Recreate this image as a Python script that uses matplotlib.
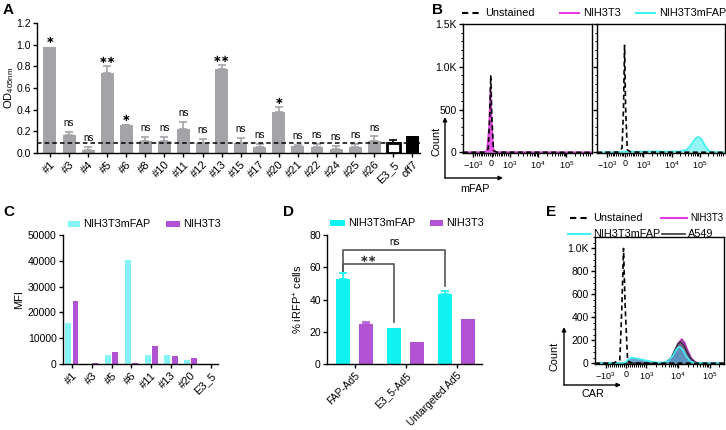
import matplotlib
matplotlib.use('Agg')
import matplotlib.pyplot as plt
import numpy as np
from matplotlib.lines import Line2D
from matplotlib.patches import Rectangle, FancyArrowPatch
from matplotlib.ticker import FixedLocator, MultipleLocator, NullFormatter

plt.rcParams['font.family'] = ['Liberation Sans', 'DejaVu Sans']
plt.rcParams['font.size'] = 7.5
plt.rcParams['mathtext.fontset'] = 'custom'
plt.rcParams['mathtext.rm'] = 'Liberation Sans'
plt.rcParams['mathtext.it'] = 'Liberation Sans:italic'
plt.rcParams['axes.linewidth'] = 1.0
for ax_ in ('xtick', 'ytick'):
    plt.rcParams[f'{ax_}.major.width'] = 1.0
    plt.rcParams[f'{ax_}.major.size'] = 3
    plt.rcParams[f'{ax_}.minor.width'] = 0.7
    plt.rcParams[f'{ax_}.minor.size'] = 1.8
    plt.rcParams[f'{ax_}.major.pad'] = 1.5
    plt.rcParams[f'{ax_}.labelsize'] = 7.5

# ---------------- data ----------------
# Panel A
a_labels = ['#1', '#3', '#4', '#5', '#6', '#8', '#10', '#11', '#12', '#13', '#15', '#17',
            '#20', '#21', '#22', '#24', '#25', '#26', 'E3_5', 'off7']
a_values = [0.98, 0.167, 0.028, 0.738, 0.259, 0.114, 0.114, 0.222, 0.096, 0.775, 0.096, 0.056,
            0.383, 0.068, 0.056, 0.040, 0.056, 0.111, 0.090, 0.157]
a_errors = [0.0, 0.031, 0.031, 0.062, 0.004, 0.034, 0.034, 0.062, 0.037, 0.034, 0.046, 0.027,
            0.040, 0.010, 0.027, 0.028, 0.027, 0.043, 0.030, 0.0]
a_sig = ['*', 'ns', 'ns', '**', '*', 'ns', 'ns', 'ns', 'ns', '**', 'ns', 'ns', '*', 'ns', 'ns',
         'ns', 'ns', 'ns', '', '']
a_threshold = 0.093

# Panel B (flow histograms, mFAP)
b_left_unst_x = [-2300, -400, -180, -100, -40, 20, 110, 300, 800000]
b_left_unst_y = [0, 2, 40, 400, 900, 400, 20, 2, 0]
b_left_nih_x = [-2300, -400, -250, -130, -60, 0, 80, 150, 400, 800000]
b_left_nih_y = [0, 2, 20, 300, 750, 400, 60, 10, 2, 0]
b_right_unst_x = [-2300, -400, -180, -100, -40, 20, 110, 300, 800000]
b_right_unst_y = [0, 3, 50, 500, 1250, 500, 30, 3, 0]
b_right_mfap_x = [-2300, -300, 0, 300, 1000, 3000, 8000, 20000, 35000, 50000, 70000, 90000,
                  120000, 160000, 220000, 300000, 800000]
b_right_mfap_y = [0, 3, 6, 8, 8, 10, 8, 10, 30, 90, 160, 180, 150, 70, 15, 3, 0]

# Panel C
c_labels = ['#1', '#3', '#5', '#6', '#11', '#13', '#20', 'E3_5']
c_mfap = [16000, 0, 3300, 40500, 3500, 3400, 1700, 0]
c_nih = [24300, 300, 4500, 300, 6800, 3200, 2400, 0]

# Panel D
d_labels = ['FAP-Ad5', 'E3_5-Ad5', 'Untargeted Ad5']
d_mfap = [52.5, 22.5, 43.2]
d_mfap_err = [4.2, 0, 2.0]
d_nih = [24.8, 13.4, 27.9]
d_nih_err = [1.4, 0, 0]

# Panel E (flow histograms, CAR)
e_unst_x = [-2150, -600, -300, -200, -120, -40, 80, 300, 280000]
e_unst_y = [0, 2, 30, 500, 1000, 500, 20, 2, 0]
e_mfap_x = [-2150, -200, 0, 150, 300, 600, 1000, 1800, 3000, 5000, 7000, 9000, 11000, 14000,
            18000, 25000, 35000, 280000]
e_mfap_y = [0, 2, 10, 40, 50, 40, 25, 10, 5, 20, 70, 125, 145, 120, 60, 15, 3, 0]
e_nih_x = [-2150, 2000, 4000, 6000, 8000, 10000, 13000, 16000, 20000, 26000, 35000, 45000, 280000]
e_nih_y = [0, 0, 5, 40, 110, 175, 210, 180, 110, 45, 10, 2, 0]
e_a549_x = [-2150, 2000, 4000, 6000, 8000, 10000, 12000, 15000, 19000, 25000, 33000, 45000, 280000]
e_a549_y = [0, 0, 6, 45, 120, 170, 185, 160, 100, 40, 10, 2, 0]

# ---------------- style ----------------
GREY = '#a4a4a8'
CYAN_C = '#84f4f6'
CYAN = '#10f2f2'
PURPLE = '#b253d4'
MAGENTA = '#e03ce0'
CYAN_LINE = '#3ff0f0'
LEG_FS = 7.8

W, H = 726, 430
fig = plt.figure(figsize=(W / 100, H / 100), dpi=100)


def px_axes(l, t, r, b):
    return fig.add_axes([l / W, 1 - b / H, (r - l) / W, (b - t) / H])


def fx(x):
    return x / W


def fy(y):
    return 1 - y / H


def fig_line(x0, x1, y, **kw):
    fig.add_artist(Line2D([fx(x0), fx(x1)], [fy(y), fy(y)], transform=fig.transFigure, **kw))


def fig_patch(x0, x1, y, color):
    fig.add_artist(Rectangle((fx(x0), fy(y + 3)), fx(x1 - x0), 6 / H, transform=fig.transFigure,
                             color=color, lw=0))


def fig_arrow(x0, y0, x1, y1):
    fig.add_artist(FancyArrowPatch((fx(x0), fy(y0)), (fx(x1), fy(y1)), transform=fig.transFigure,
                                   arrowstyle='-|>', mutation_scale=6, lw=1.0, color='black',
                                   shrinkA=0, shrinkB=0))


def panel_label(x, y, s):
    fig.text(fx(x), fy(y), s, fontsize=11, fontweight='bold', ha='left', va='center')


# ---------------- Panel A ----------------
axA = px_axes(37, 23, 420, 153)
xa = np.arange(len(a_labels))
colorsA = [GREY] * (len(a_labels) - 2) + ['white', 'black']
edgesA = [GREY] * (len(a_labels) - 2) + ['black', 'black']
lwA = [0] * (len(a_labels) - 2) + [2.0, 0]
axA.bar(xa, a_values, width=0.68, color=colorsA, edgecolor=edgesA, linewidth=lwA, zorder=2)
ecol = [GREY] * (len(a_labels) - 2) + ['black', 'black']
for i in range(len(a_labels)):
    if a_errors[i] > 0:
        axA.errorbar(xa[i], a_values[i], yerr=[[0], [a_errors[i]]], fmt='none', ecolor=ecol[i],
                     elinewidth=1.2, capsize=3, capthick=1.2, zorder=1)
    if a_sig[i]:
        top = a_values[i] + a_errors[i]
        if a_sig[i] == 'ns':
            axA.text(xa[i], top + 0.035, 'ns', ha='center', va='bottom', fontsize=7)
        else:
            axA.text(xa[i], top + 0.015, a_sig[i].replace('*', '∗'), ha='center', va='bottom',
                     fontsize=7.5, fontweight='bold')
axA.axhline(a_threshold, color='black', ls=(0, (3, 2)), lw=1.1, zorder=3)
axA.set_xlim(-0.68, 19.4)
axA.set_ylim(0, 1.2)
axA.set_yticks(np.arange(0, 1.21, 0.2))
axA.set_yticklabels([f'{v:.1f}' for v in np.arange(0, 1.21, 0.2)], fontsize=7.5)
axA.set_xticks(xa)
axA.set_xticklabels(a_labels, rotation=45, ha='right', rotation_mode='anchor', fontsize=8)
axA.spines[['top', 'right']].set_visible(False)
axA.set_ylabel(r'OD$_\mathregular{405nm}$', fontsize=8)
axA.yaxis.set_label_coords(-0.056, 0.5)

# ---------------- Panel B ----------------
def flow_xaxis(ax, xmin, xmax, linscale):
    ax.set_xscale('symlog', linthresh=1000, linscale=linscale)
    ax.set_xlim(xmin, xmax)
    ax.xaxis.set_major_locator(FixedLocator([-1000, 0, 1000, 10000, 100000]))
    ax.set_xticklabels([r'$\mathregular{-10^3}$', '0', r'$\mathregular{10^3}$',
                        r'$\mathregular{10^4}$', r'$\mathregular{10^5}$'], fontsize=6.5)
    minors = [-m * 100 for m in range(1, 10)] + [m * 100 for m in range(1, 10)]
    for k in (3, 4, 5):
        minors += [m * 10 ** k for m in range(2, 10)]
    minors = [m for m in minors if xmin < m < xmax]
    ax.xaxis.set_minor_locator(FixedLocator(minors))
    ax.xaxis.set_minor_formatter(NullFormatter())


axB1 = px_axes(463, 24, 592, 153)
axB2 = px_axes(597, 24, 725, 153)
for ax in (axB1, axB2):
    flow_xaxis(ax, -2300, 800000, 0.58)
    ax.set_ylim(-8, 1500)
    ax.yaxis.set_major_locator(FixedLocator([0, 500, 1000, 1500]))
    ax.yaxis.set_minor_locator(MultipleLocator(100))
axB1.set_yticklabels(['0', '500', '1.0K', '1.5K'])
axB2.set_yticklabels([])

axB1.fill_between(b_left_nih_x, b_left_nih_y, color=MAGENTA, alpha=0.85, lw=0)
axB1.plot(b_left_nih_x, b_left_nih_y, color=MAGENTA, lw=1.2)
axB1.plot(b_left_unst_x, b_left_unst_y, color='black', lw=1.2, ls=(0, (3, 2)))
axB2.fill_between(b_right_mfap_x, b_right_mfap_y, color=CYAN_LINE, alpha=0.55, lw=0)
axB2.plot(b_right_mfap_x, b_right_mfap_y, color=CYAN_LINE, lw=1.2)
axB2.plot(b_right_unst_x, b_right_unst_y, color='black', lw=1.2, ls=(0, (3, 2)))

fig_line(462, 480, 13, color='black', lw=1.5, ls=(0, (3, 2)))
fig.text(fx(485), fy(13), 'Unstained', va='center', ha='left', fontsize=LEG_FS)
fig_line(560, 579, 13, color=MAGENTA, lw=1.5)
fig.text(fx(583), fy(13), 'NIH3T3', va='center', ha='left', fontsize=LEG_FS)
fig_line(636, 655, 13, color=CYAN_LINE, lw=1.5)
fig.text(fx(659), fy(13), 'NIH3T3mFAP', va='center', ha='left', fontsize=LEG_FS)

fig_arrow(445, 178, 445, 117)
fig_arrow(445, 178, 503, 178)
fig.text(fx(436), fy(141), 'Count', rotation=90, ha='center', va='center', fontsize=LEG_FS)
fig.text(fx(460), fy(189), 'mFAP', ha='left', va='center', fontsize=LEG_FS)

# ---------------- Panel C ----------------
axC = px_axes(63, 235, 218, 364)
xc = np.arange(len(c_labels))
axC.bar(xc - 0.18, c_mfap, width=0.3, color=CYAN_C, zorder=2)
axC.bar(xc + 0.18, c_nih, width=0.3, color=PURPLE, zorder=2)
axC.set_xlim(-0.45, 7.37)
axC.set_ylim(0, 50000)
axC.set_yticks(np.arange(0, 50001, 10000))
axC.set_xticks(xc)
axC.set_xticklabels(c_labels, rotation=45, ha='right', rotation_mode='anchor', fontsize=8)
axC.spines[['top', 'right']].set_visible(False)
axC.set_ylabel('MFI', fontsize=8, labelpad=3)
fig_patch(68, 80, 224, CYAN_C)
fig.text(fx(83), fy(224), 'NIH3T3mFAP', va='center', ha='left', fontsize=LEG_FS)
fig_patch(166, 180, 224, PURPLE)
fig.text(fx(183), fy(224), 'NIH3T3', va='center', ha='left', fontsize=LEG_FS)

# ---------------- Panel D ----------------
axD = px_axes(327, 235, 482, 364)
xd = np.arange(len(d_labels))
off = 0.22
axD.bar(xd - off, d_mfap, width=0.28, color=CYAN, zorder=2)
axD.bar(xd + off, d_nih, width=0.28, color=PURPLE, zorder=2)
for i in range(len(d_labels)):
    if d_mfap_err[i] > 0:
        axD.errorbar(xd[i] - off, d_mfap[i], yerr=[[0], [d_mfap_err[i]]], fmt='none',
                     ecolor=CYAN, elinewidth=1.2, capsize=3, capthick=1.2, zorder=1)
    if d_nih_err[i] > 0:
        axD.errorbar(xd[i] + off, d_nih[i], yerr=[[0], [d_nih_err[i]]], fmt='none',
                     ecolor=PURPLE, elinewidth=1.2, capsize=3, capthick=1.2, zorder=1)
bc = '#555555'
axD.plot([xd[0] - off, xd[0] - off, xd[2] - off, xd[2] - off], [57.5, 70.8, 70.8, 48.5],
         color=bc, lw=1.2)
axD.plot([xd[0] - off, xd[0] - off, xd[1] - off, xd[1] - off], [57.5, 61.8, 61.8, 26.2],
         color=bc, lw=1.2)
axD.text((xd[0] + xd[2]) / 2 - off, 72.5, 'ns', ha='center', va='bottom', fontsize=7)
axD.text((xd[0] + xd[1]) / 2 - off, 62.0, '∗∗', ha='center', va='bottom', fontsize=7.5,
         fontweight='bold', color='#333333')
axD.set_xlim(-0.54, 2.5)
axD.set_ylim(0, 80)
axD.set_yticks(np.arange(0, 81, 20))
axD.set_xticks(xd)
axD.set_xticklabels(d_labels, rotation=45, ha='right', rotation_mode='anchor', fontsize=7.4)
axD.spines[['top', 'right']].set_visible(False)
axD.set_ylabel(r'% iRFP$^\mathregular{+}$ cells', fontsize=8, labelpad=3)
fig_patch(330, 345, 223, CYAN)
fig.text(fx(348), fy(223), 'NIH3T3mFAP', va='center', ha='left', fontsize=LEG_FS)
fig_patch(430, 443, 223, PURPLE)
fig.text(fx(446), fy(223), 'NIH3T3', va='center', ha='left', fontsize=LEG_FS)

# ---------------- Panel E ----------------
axE = px_axes(595, 237, 724, 364)
flow_xaxis(axE, -2150, 280000, 0.58)
axE.set_ylim(-6, 1100)
axE.yaxis.set_major_locator(FixedLocator([0, 200, 400, 600, 800, 1000]))
axE.set_yticklabels(['0', '200', '400', '600', '800', '1.0K'])
axE.yaxis.set_minor_locator(MultipleLocator(50))
axE.fill_between(e_nih_x, e_nih_y, color='#9a3aa8', alpha=0.85, lw=0)
axE.fill_between(e_a549_x, e_a549_y, color='#666677', alpha=0.6, lw=0)
axE.fill_between(e_mfap_x, e_mfap_y, color='#5b98c4', alpha=0.9, lw=0)
axE.plot(e_nih_x, e_nih_y, color='#b030b8', lw=1.2)
axE.plot(e_a549_x, e_a549_y, color='#333333', lw=1.0)
axE.plot(e_mfap_x, e_mfap_y, color=CYAN_LINE, lw=1.2)
axE.plot(e_unst_x, e_unst_y, color='black', lw=1.2, ls=(0, (3, 2)))

fig_line(570, 587, 218, color='black', lw=1.5, ls=(0, (3, 2)))
fig.text(fx(593), fy(218), 'Unstained', va='center', ha='left', fontsize=LEG_FS)
fig_line(661, 687, 218, color=MAGENTA, lw=1.5)
fig.text(fx(690), fy(218), 'NIH3T3', va='center', ha='left', fontsize=7)
fig_line(568, 590, 234, color=CYAN_LINE, lw=1.5)
fig.text(fx(593), fy(234), 'NIH3T3mFAP', va='center', ha='left', fontsize=LEG_FS)
fig_line(662, 685, 234, color='#333333', lw=1.2)
fig.text(fx(688), fy(234), 'A549', va='center', ha='left', fontsize=LEG_FS)

fig_arrow(564, 385, 564, 327)
fig_arrow(564, 385, 621, 385)
fig.text(fx(555), fy(356), 'Count', rotation=90, ha='center', va='center', fontsize=LEG_FS)
fig.text(fx(582), fy(394), 'CAR', ha='left', va='center', fontsize=LEG_FS)

# ---------------- panel letters ----------------
panel_label(3, 10, 'A')
panel_label(432, 10, 'B')
panel_label(3, 212, 'C')
panel_label(283, 212, 'D')
panel_label(546, 212, 'E')

fig.savefig('out.png', dpi=100)
